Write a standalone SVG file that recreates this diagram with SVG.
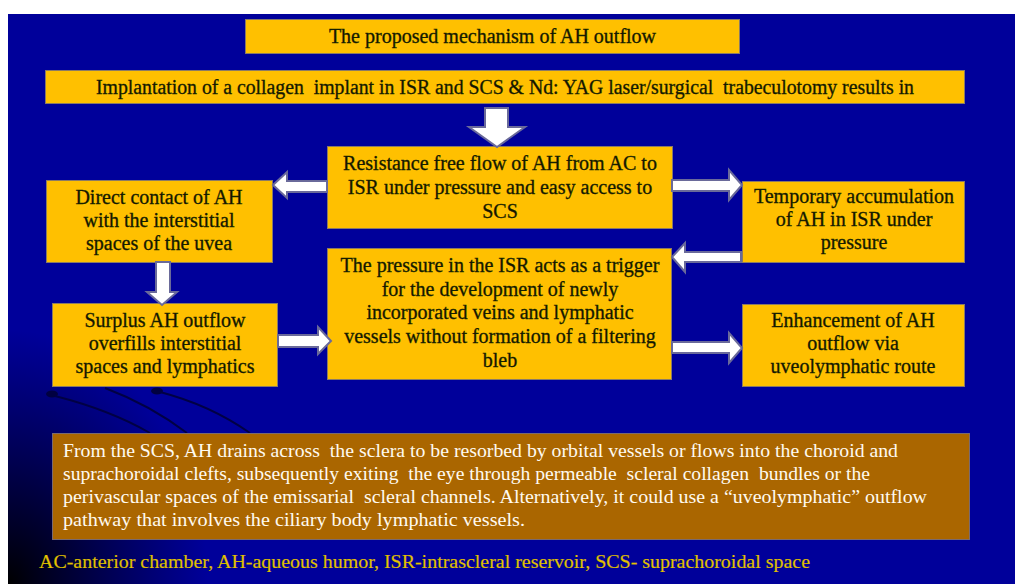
<svg xmlns="http://www.w3.org/2000/svg" width="1015" height="584" viewBox="0 0 1015 584">
<style>
.box{fill:#ffc000;stroke:#8a7a66;stroke-width:1}
.brown{fill:#aa6600;stroke:#7a6a70;stroke-width:1}
.t{font-family:"Liberation Serif","Times New Roman",serif;font-size:20px;fill:#141400;stroke:#1a2a00;stroke-width:0.35;text-anchor:middle}
.w{font-family:"Liberation Serif","Times New Roman",serif;font-size:19px;fill:#fffaf0}
.lg{font-family:"Liberation Serif","Times New Roman",serif;font-size:19px;fill:#e6c200;stroke:#c0b000;stroke-width:0.2}
.arr{fill:#ffffff;stroke:#6a6a9a;stroke-width:2;stroke-linejoin:miter}
.deco{fill:none;stroke:#000044;stroke-width:2}
</style>
<defs>
<radialGradient id="corner" cx="0" cy="1" r="1">
<stop offset="0" stop-color="#000000" stop-opacity="1"/>
<stop offset="0.3" stop-color="#000010" stop-opacity="0.75"/>
<stop offset="1" stop-color="#000020" stop-opacity="0"/>
</radialGradient>
</defs>
<rect x="0" y="0" width="1015" height="584" fill="#ffffff"/>
<rect x="8" y="14" width="1007" height="570" fill="#00009a"/>
<rect x="8" y="330" width="200" height="254" fill="url(#corner)"/>
<g id="decoration">
<ellipse cx="52" cy="394" rx="6" ry="3.5" fill="#000040"/>
<ellipse cx="157" cy="391" rx="6" ry="3.5" fill="#000040"/>
<path class="deco" d="M55,396 Q110,410 150,433"/>
<path class="deco" d="M105,388 Q150,405 187,433"/>
<path class="deco" d="M160,392 Q210,405 250,433"/>
</g>
<g id="title">
<rect class="box" x="245.5" y="19.5" width="494" height="34"/>
<text class="t" x="492.5" y="43">The proposed mechanism of AH outflow</text>
</g>
<g id="implant">
<rect class="box" x="45.5" y="70.5" width="919" height="33"/>
<text class="t" x="96" y="94" style="text-anchor:start" textLength="818" lengthAdjust="spacingAndGlyphs" xml:space="preserve">Implantation of a collagen  implant in ISR and SCS &amp; Nd: YAG laser/surgical  trabeculotomy results in</text>
</g>
<g id="resistance">
<rect class="box" x="327.5" y="146.5" width="345" height="82"/>
<text class="t" x="500" y="170">Resistance free flow of AH from AC to</text>
<text class="t" x="500" y="194">ISR under pressure and easy access to</text>
<text class="t" x="500" y="218">SCS</text>
</g>
<g id="direct-contact">
<rect class="box" x="46.5" y="180.5" width="226" height="82"/>
<text class="t" x="159" y="204">Direct contact of AH</text>
<text class="t" x="159" y="227">with the interstitial</text>
<text class="t" x="159" y="250">spaces of the uvea</text>
</g>
<g id="temporary">
<rect class="box" x="742.5" y="181.5" width="222" height="81"/>
<text class="t" x="854" y="203">Temporary accumulation</text>
<text class="t" x="854" y="226">of AH in ISR under</text>
<text class="t" x="854" y="249">pressure</text>
</g>
<g id="pressure-trigger">
<rect class="box" x="327.5" y="248.5" width="344" height="131"/>
<text class="t" x="500" y="272">The pressure in the ISR acts as a trigger</text>
<text class="t" x="500" y="296">for the development of newly</text>
<text class="t" x="500" y="319">incorporated veins and lymphatic</text>
<text class="t" x="500" y="343">vessels without formation of a filtering</text>
<text class="t" x="500" y="367">bleb</text>
</g>
<g id="surplus">
<rect class="box" x="52.5" y="303.5" width="225" height="83"/>
<text class="t" x="165" y="327">Surplus AH outflow</text>
<text class="t" x="165" y="350">overfills interstitial</text>
<text class="t" x="165" y="373">spaces and lymphatics</text>
</g>
<g id="enhancement">
<rect class="box" x="742.5" y="304.5" width="222" height="82"/>
<text class="t" x="853" y="327">Enhancement of AH</text>
<text class="t" x="853" y="350">outflow via</text>
<text class="t" x="853" y="373">uveolymphatic route</text>
</g>
<g id="drainage">
<rect class="brown" x="52.5" y="433.5" width="917" height="106"/>
<text class="w" x="63" y="457" textLength="835" lengthAdjust="spacingAndGlyphs" xml:space="preserve">From the SCS, AH drains across  the sclera to be resorbed by orbital vessels or flows into the choroid and</text>
<text class="w" x="63" y="480" textLength="807" lengthAdjust="spacingAndGlyphs" xml:space="preserve">suprachoroidal clefts, subsequently exiting  the eye through permeable  scleral collagen  bundles or the</text>
<text class="w" x="63" y="503" textLength="864" lengthAdjust="spacingAndGlyphs" xml:space="preserve">perivascular spaces of the emissarial  scleral channels. Alternatively, it could use a “uveolymphatic” outflow</text>
<text class="w" x="63" y="526" textLength="462" lengthAdjust="spacingAndGlyphs">pathway that involves the ciliary body lymphatic vessels.</text>
</g>
<g id="legend">
<text class="lg" x="39" y="568" textLength="771" lengthAdjust="spacingAndGlyphs">AC-anterior chamber, AH-aqueous humor, ISR-intrascleral reservoir, SCS- suprachoroidal space</text>
</g>
<g id="connectors">
<polygon class="arr" points="485,108 508,108 508,127 525,127 497,147 469,127 485,127"/>
<polygon class="arr" points="327,181 287,181 287,172 273,185 287,198 287,192 327,192"/>
<polygon class="arr" points="156,262 170,262 170,292 177,292 162,305 147,292 156,292"/>
<polygon class="arr" points="278,335 318,335 318,327 331,341 318,354 318,347 278,347"/>
<polygon class="arr" points="672,180 729,180 729,170 742,185 729,200 729,191 672,191"/>
<polygon class="arr" points="741,252 685,252 685,243 672,257 685,272 685,262 741,262"/>
<polygon class="arr" points="672,342 729,342 729,333 742,348 729,363 729,353 672,353"/>
</g>
</svg>
